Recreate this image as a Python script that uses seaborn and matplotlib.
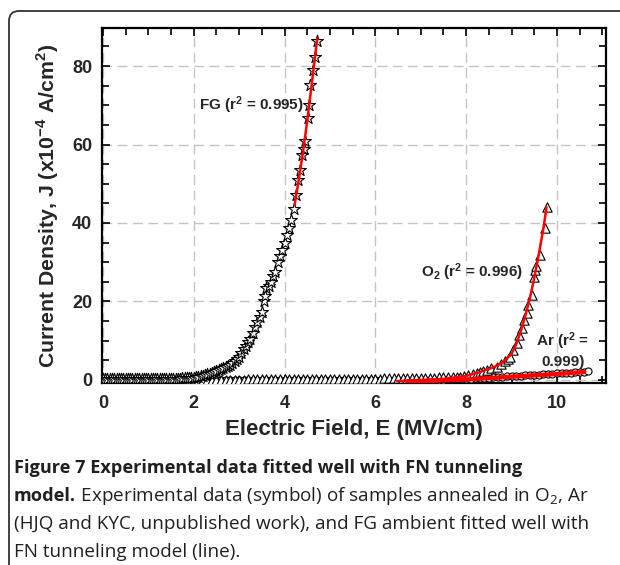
import matplotlib
matplotlib.use("Agg")
import matplotlib.pyplot as plt
from matplotlib.patches import FancyBboxPatch
from matplotlib.transforms import IdentityTransform
from matplotlib.ticker import MultipleLocator
import seaborn as sns
import pandas as pd

# ---------------- data ----------------
fg_x = [0.0, 0.05, 0.1, 0.15, 0.2, 0.25, 0.3, 0.35, 0.4, 0.45, 0.5, 0.55, 0.6, 0.65,
        0.7, 0.75, 0.8, 0.85, 0.9, 0.95, 1.0, 1.05, 1.1, 1.15, 1.2, 1.25, 1.3, 1.35,
        1.4, 1.45, 1.5, 1.55, 1.6, 1.65, 1.7, 1.75, 1.8, 1.85, 1.9, 1.95,
        2.0, 2.05, 2.1, 2.15, 2.2, 2.25, 2.3, 2.35, 2.4, 2.45, 2.5, 2.55, 2.6, 2.65,
        2.7, 2.75, 2.8, 2.85, 2.9, 2.95,
        3.0, 3.05, 3.1, 3.15, 3.2, 3.25, 3.3, 3.35, 3.4, 3.45, 3.5, 3.55, 3.58, 3.6,
        3.65, 3.7, 3.75, 3.8, 3.85, 3.9, 3.95, 4.0, 4.05, 4.1, 4.15, 4.2, 4.25, 4.3,
        4.35, 4.39, 4.42, 4.46, 4.51, 4.53, 4.57, 4.63, 4.68, 4.72]
fg_y = [0.1, 0.1, 0.1, 0.1, 0.1, 0.1, 0.1, 0.1, 0.1, 0.1, 0.1, 0.1, 0.1, 0.1,
        0.1, 0.1, 0.1, 0.1, 0.15, 0.15, 0.15, 0.15, 0.15, 0.15, 0.15, 0.2, 0.2, 0.2,
        0.2, 0.2, 0.2, 0.25, 0.25, 0.3, 0.3, 0.35, 0.35, 0.4, 0.45, 0.5,
        0.6, 0.7, 0.8, 0.9, 1.0, 1.2, 1.4, 1.6, 1.8, 2.0, 2.3, 2.5, 2.8, 3.1,
        3.4, 3.6, 3.9, 4.4, 4.9, 5.4,
        5.9, 6.8, 7.8, 8.7, 9.6, 10.4, 12.0, 13.5, 14.8, 16.0, 17.2, 20.0, 21.5, 23.4,
        24.0, 25.0, 26.5, 27.5, 30.0, 31.5, 33.0, 35.0, 37.0, 38.8, 40.8, 43.5, 47.0, 51.0,
        53.5, 57.3, 58.8, 61.0, 66.7, 70.0, 75.2, 79.0, 82.2, 86.4]

o2_x = [0.0, 0.1, 0.2, 0.3, 0.4, 0.5, 0.6, 0.7, 0.8, 0.9, 1.0, 1.1, 1.2, 1.3, 1.4,
        1.5, 1.6, 1.7, 1.8, 1.9, 2.0, 2.1, 2.2, 2.3, 2.4, 2.5, 2.6, 2.7, 2.8, 2.9,
        3.0, 3.1, 3.2, 3.3, 3.4, 3.5, 3.6, 3.7, 3.8, 3.9, 4.0, 4.1, 4.2, 4.3, 4.4,
        4.5, 4.6, 4.7, 4.8, 4.9, 5.0, 5.1, 5.2, 5.3, 5.4, 5.5, 5.6, 5.7, 5.8, 5.9,
        6.0, 6.1, 6.2, 6.3, 6.4, 6.5, 6.6, 6.7, 6.8, 6.9, 7.0, 7.1, 7.2, 7.3, 7.4,
        7.5, 7.6, 7.7, 7.8, 7.87, 7.95, 8.05, 8.16, 8.23, 8.3, 8.38,
        8.45, 8.55, 8.67, 8.77, 8.86, 8.92, 8.97, 9.04, 9.11, 9.17, 9.22, 9.27, 9.33,
        9.37, 9.44, 9.49, 9.52, 9.54, 9.63, 9.73, 9.77]
o2_y = [0.0, 0.0, 0.0, 0.0, 0.0, 0.0, 0.0, 0.0, 0.0, 0.0, 0.0, 0.0, 0.0, 0.0, 0.0,
        0.0, 0.0, 0.0, 0.0, 0.0, 0.0, 0.0, 0.0, 0.0, 0.05, 0.05, 0.05, 0.05, 0.05, 0.05,
        0.05, 0.05, 0.1, 0.1, 0.1, 0.1, 0.1, 0.1, 0.1, 0.1, 0.1, 0.1, 0.1, 0.1, 0.15,
        0.15, 0.15, 0.15, 0.15, 0.15, 0.2, 0.2, 0.2, 0.2, 0.2, 0.2, 0.25, 0.25, 0.3, 0.3,
        0.3, 0.3, 0.35, 0.35, 0.4, 0.4, 0.45, 0.45, 0.5, 0.5, 0.55, 0.55, 0.6, 0.6, 0.65,
        0.65, 0.7, 0.75, 0.8, 0.85, 0.95, 1.15, 1.5, 1.8, 2.1, 2.3,
        2.5, 3.0, 3.4, 4.1, 4.7, 5.3, 5.9, 7.6, 9.4, 11.5, 13.2, 15.3, 17.0,
        19.1, 21.7, 26.3, 28.0, 28.9, 31.8, 38.6, 44.0]

ar_x = [0.0, 0.1, 0.2, 0.3, 0.4, 0.5, 0.6, 0.7, 0.8, 0.9, 1.0, 1.1, 1.2, 1.3, 1.4,
        1.5, 1.6, 1.7, 1.8, 1.9, 2.0, 2.1, 2.2, 2.3, 2.4, 2.5, 2.6, 2.7, 2.8, 2.9,
        3.0, 3.1, 3.2, 3.3, 3.4, 3.5, 3.6, 3.7, 3.8, 3.9, 4.0, 4.1, 4.2, 4.3, 4.4,
        4.5, 4.6, 4.7, 4.8, 4.9, 5.0, 5.1, 5.2, 5.3, 5.4, 5.5, 5.6, 5.7, 5.8, 5.9,
        6.0, 6.1, 6.2, 6.3, 6.4, 6.5, 6.6, 6.7, 6.8, 6.9, 7.0, 7.1, 7.2, 7.3, 7.4,
        7.5, 7.6, 7.7, 7.8, 7.9, 8.0, 8.1, 8.2, 8.3, 8.4, 8.5, 8.6, 8.7, 8.8, 8.9,
        9.0, 9.1, 9.2, 9.3, 9.4, 9.5, 9.6, 9.7, 9.8, 9.9, 10.0, 10.1, 10.2, 10.3,
        10.4, 10.5, 10.6, 10.68]
ar_y = [-0.1, -0.1, -0.1, -0.1, -0.1, -0.1, -0.1, -0.1, -0.1, -0.1, -0.1, -0.1, -0.1,
        -0.1, -0.1, -0.1, -0.1, -0.1, -0.1, -0.1, -0.1, -0.1, -0.1, -0.1, -0.1, -0.1,
        -0.1, -0.1, -0.1, -0.1, -0.1, -0.1, -0.1, -0.1, -0.1, -0.1, -0.1, -0.1, -0.1,
        -0.1, -0.1, -0.1, -0.1, -0.1, -0.1, -0.1, -0.1, -0.1, -0.1, -0.1, -0.05, -0.05,
        -0.05, -0.05, -0.05, -0.05, -0.05, -0.05, -0.05, -0.05, 0.0, 0.0, 0.0, 0.0, 0.0,
        0.0, 0.0, 0.0, 0.0, 0.0, 0.0, 0.0, 0.05, 0.05, 0.05, 0.05, 0.1, 0.1, 0.15, 0.2,
        0.25, 0.3, 0.38, 0.45, 0.52, 0.6, 0.66, 0.72, 0.8, 0.86,
        0.93, 1.0, 1.06, 1.13, 1.2, 1.27, 1.35, 1.42, 1.5, 1.57, 1.64, 1.72, 1.8, 1.87,
        1.94, 2.0, 2.1, 2.2]

fg_fit_x = [4.22, 4.3, 4.4, 4.5, 4.6, 4.72]
fg_fit_y = [44.5, 50.0, 57.5, 66.0, 75.5, 87.0]

o2_fit_x = [6.48, 7.0, 7.5, 8.0, 8.3, 8.6, 8.8, 9.0, 9.1, 9.2, 9.3, 9.4, 9.5, 9.6, 9.7, 9.77]
o2_fit_y = [-0.3, -0.1, 0.25, 1.0, 2.0, 3.2, 4.4, 6.6, 9.0, 12.3, 16.2, 20.6, 26.0, 32.0,
            38.5, 44.0]

ar_fit_x = [6.7, 7.5, 8.0, 8.5, 9.0, 9.5, 10.0, 10.6]
ar_fit_y = [-0.4, -0.1, 0.1, 0.45, 0.8, 1.15, 1.5, 2.0]

x_ticks = [0, 2, 4, 6, 8, 10]
y_ticks = [0, 20, 40, 60, 80]

labels = {"FG": "FG (r$^{\\mathbf{2}}$ = 0.995)",
          "O2": "O$_{\\mathbf{2}}$ (r$^{\\mathbf{2}}$ = 0.996)",
          "Ar": "Ar (r$^{\\mathbf{2}}$ =\n0.999)"}
x_label = "Electric Field, E (MV/cm)"
y_label = "Current Density, J (x10$^{\\mathbf{-4}}$ A/cm$^{\\mathbf{2}}$)"
cap_bold1 = "Figure 7 Experimental data fitted well with FN tunneling"
cap_bold2 = "model."
cap_rest2 = " Experimental data (symbol) of samples annealed in O$_2$, Ar"
cap_line3 = "(HJQ and KYC, unpublished work), and FG ambient fitted well with"
cap_line4 = "FN tunneling model (line)."

# ---------------- style ----------------
sns.set_style("ticks")
plt.rcParams["font.family"] = ["Liberation Sans", "DejaVu Sans"]
plt.rcParams["mathtext.fontset"] = "custom"
plt.rcParams["mathtext.rm"] = "Open Sans"
plt.rcParams["mathtext.bf"] = "Liberation Sans:bold"
plt.rcParams["mathtext.it"] = "Open Sans:italic"

fig = plt.figure(figsize=(6.2, 5.65), dpi=100)
ax = fig.add_axes([102 / 620, 1 - 383 / 565, (606 - 102) / 620, (383 - 28) / 565])

fg = pd.DataFrame({"x": fg_x, "y": fg_y})
o2 = pd.DataFrame({"x": o2_x, "y": o2_y})
ar = pd.DataFrame({"x": ar_x, "y": ar_y})

sns.scatterplot(data=ar, x="x", y="y", ax=ax, marker="o", s=26, facecolor="white",
                edgecolor="black", linewidth=0.8, zorder=3)
sns.scatterplot(data=o2, x="x", y="y", ax=ax, marker="^", s=45, facecolor="white",
                edgecolor="black", linewidth=0.8, zorder=3)
sns.scatterplot(data=fg, x="x", y="y", ax=ax, marker="*", s=80, facecolor="white",
                edgecolor="black", linewidth=0.8, zorder=4)

sns.lineplot(x=ar_fit_x, y=ar_fit_y, ax=ax, color="#ff0000", linewidth=3.2, sort=False,
             estimator=None, zorder=5)
sns.lineplot(x=o2_fit_x, y=o2_fit_y, ax=ax, color="#ff0000", linewidth=1.8, sort=False,
             estimator=None, zorder=5)
sns.lineplot(x=fg_fit_x, y=fg_fit_y, ax=ax, color="#ff0000", linewidth=1.8, sort=False,
             estimator=None, zorder=5)

ax.set_xlim(-0.02, 11.08)
ax.set_ylim(-0.8, 89.7)
ax.set_xticks(x_ticks)
ax.set_yticks(y_ticks)
ax.xaxis.set_minor_locator(MultipleLocator(0.5))
ax.yaxis.set_minor_locator(MultipleLocator(5))
ax.tick_params(which="both", direction="in", top=True, right=True, width=1.2,
               color="black")
ax.tick_params(which="major", length=6, labelsize=13)
ax.tick_params(axis="x", which="major", pad=9)
ax.tick_params(axis="y", which="major", pad=7)
ax.tick_params(which="minor", length=5)
for lab in ax.get_xticklabels() + ax.get_yticklabels():
    lab.set_fontweight("bold")
for sp in ax.spines.values():
    sp.set_linewidth(1.6)
    sp.set_color("black")
ax.grid(True, which="major", linestyle=(0, (7, 4)), color="#c4c4c4", linewidth=1.0)
ax.set_axisbelow(True)

ax.set_xlabel(x_label, fontsize=16, fontweight="bold", labelpad=5)
ax.set_ylabel(y_label, fontsize=15.3, fontweight="bold", labelpad=8)

ax.text(4.42, 70, labels["FG"], fontsize=11, fontweight="bold", ha="right",
        va="center", zorder=6)
ax.text(9.25, 27.5, labels["O2"], fontsize=11, fontweight="bold", ha="right",
        va="center", zorder=6)
ax.text(10.13, 7.6, labels["Ar"], fontsize=11, fontweight="bold", ha="center",
        va="center", linespacing=1.25, zorder=6)

# caption
cap_font = ["Open Sans", "DejaVu Sans"]
fs_b = 13.1
fs_r = 13.6
rows = [468, 496, 524, 552]
fig.text(14 / 620, 1 - rows[0] / 565, cap_bold1, fontsize=fs_b, fontweight="bold",
         family=cap_font, color="#231f20", va="center", ha="left")
t2 = fig.text(14 / 620, 1 - rows[1] / 565, cap_bold2, fontsize=fs_b, fontweight="bold",
              family=cap_font, color="#231f20", va="center", ha="left")
fig.canvas.draw()
bb = t2.get_window_extent(renderer=fig.canvas.get_renderer())
fig.text(bb.x1 / fig.bbox.width, 1 - rows[1] / 565, cap_rest2, fontsize=fs_r,
         family=cap_font, color="#231f20", va="center", ha="left")
fig.text(14 / 620, 1 - rows[2] / 565, cap_line3, fontsize=fs_r, family=cap_font,
         color="#231f20", va="center", ha="left")
fig.text(14 / 620, 1 - rows[3] / 565, cap_line4, fontsize=fs_r, family=cap_font,
         color="#231f20", va="center", ha="left")

# surrounding frame (top-left rounded corner)
frame = FancyBboxPatch((9, -30), 660, 30 + 565 - 11,
                       boxstyle="round,pad=0,rounding_size=10",
                       transform=IdentityTransform(), facecolor="none",
                       edgecolor="#333333", linewidth=1.3, clip_on=False)
fig.patches.append(frame)

fig.savefig("out.png", dpi=100)
